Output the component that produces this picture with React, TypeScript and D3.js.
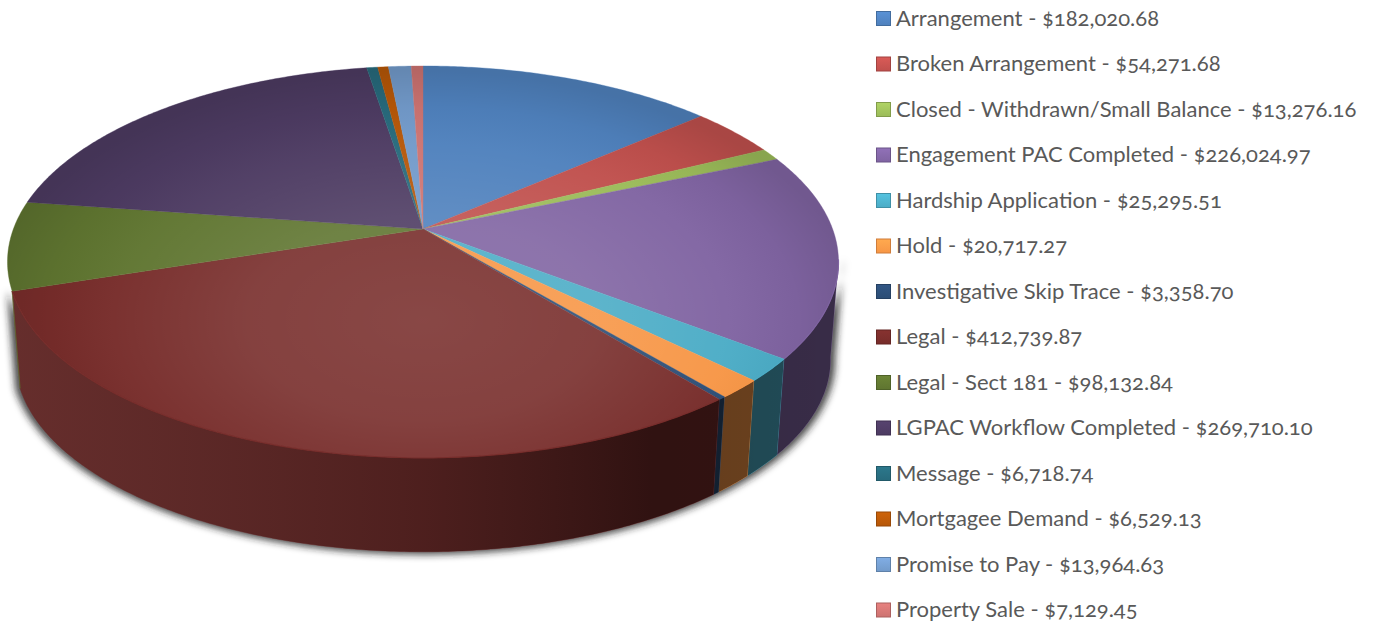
import React from "react";
import * as d3 from "d3";

const categories = [
  "Arrangement",
  "Broken Arrangement",
  "Closed - Withdrawn/Small Balance",
  "Engagement PAC Completed",
  "Hardship Application",
  "Hold",
  "Investigative Skip Trace",
  "Legal",
  "Legal - Sect 181",
  "LGPAC Workflow Completed",
  "Message",
  "Mortgagee Demand",
  "Promise to Pay",
  "Property Sale",
];
const amounts = [
  182020.68, 54271.68, 13276.16, 226024.97, 25295.51, 20717.27, 3358.7,
  412739.87, 98132.84, 269710.1, 6718.74, 6529.13, 13964.63, 7129.45,
];
const sliceColors = [
  "#4F81BD", "#C0504D", "#9BBB59", "#8064A2", "#4BACC6", "#F79646", "#2C4D75",
  "#772C2A", "#5F7530", "#4D3B62", "#276A7C", "#B65708", "#729ACA", "#CD7371",
];

const W = 1376;
const H = 623;
// Disc seen in perspective: apex of the wedges, half axes, and tilt.
const APEX_X = 423;
const APEX_Y = 229;
const AX = 409.6;
const BY = 190.4;
const TILT = 0.168;
// Extrusion converges on a vanishing point far below the disc.
const VANISH_Y = 5300;
const DEPTH_SCALE = 0.9806;
const SIDE_FROM = (99 * Math.PI) / 180;
const SIDE_TO = (252 * Math.PI) / 180;

type Pt = [number, number];
const topPoint = (a: number): Pt => {
  const w = 1 + TILT * Math.cos(a);
  return [APEX_X + (AX * Math.sin(a)) / w, APEX_Y - (BY * Math.cos(a)) / w];
};
const bottomPoint = (a: number): Pt => {
  const [x, y] = topPoint(a);
  return [APEX_X + (x - APEX_X) * DEPTH_SCALE, VANISH_Y + (y - VANISH_Y) * DEPTH_SCALE];
};
const arcAngles = (a0: number, a1: number): number[] => {
  const n = Math.max(2, Math.ceil((a1 - a0) / 0.01));
  return d3.range(n + 1).map((i) => a0 + ((a1 - a0) * i) / n);
};
const line = d3.line<Pt>();
const closed = (pts: Pt[]) => (line(pts) as string) + "Z";

const pie = d3.pie<number>().sort(null).value((d) => d);
const slices = pie(amounts);
const money = d3.format(",.2f");

const legendRow = d3.scaleLinear().domain([0, 13]).range([18.5, 610]);

export default function App() {
  const outline = arcAngles(0, Math.PI * 2).map(topPoint);
  const frontArc = arcAngles(SIDE_FROM, SIDE_TO);
  const wall = [...frontArc.map(topPoint), ...frontArc.slice().reverse().map(bottomPoint)];
  const sides = slices
    .map((s, i) => ({ i, a0: Math.max(s.startAngle, SIDE_FROM), a1: Math.min(s.endAngle, SIDE_TO) }))
    .filter((s) => s.a1 > s.a0);

  return (
    <svg
      width={W}
      height={H}
      viewBox={`0 0 ${W} ${H}`}
      style={{ position: "absolute", left: 0, top: 0, background: "#fff" }}
    >
      <defs>
        <filter id="dropBlur" x="-10%" y="-20%" width="120%" height="140%">
          <feGaussianBlur stdDeviation="3.6" />
        </filter>
        <radialGradient
          id="faceLight"
          gradientUnits="userSpaceOnUse"
          cx={0}
          cy={0}
          r={1}
          gradientTransform="translate(423 320) scale(440 250)"
        >
          <stop offset="0" stopColor="#fff" stopOpacity={0.13} />
          <stop offset="0.4" stopColor="#fff" stopOpacity={0.1} />
          <stop offset="0.7" stopColor="#fff" stopOpacity={0.03} />
          <stop offset="0.85" stopColor="#000" stopOpacity={0.03} />
          <stop offset="1" stopColor="#000" stopOpacity={0.12} />
        </radialGradient>
        <linearGradient id="sideShade" gradientUnits="userSpaceOnUse" x1={7} y1={0} x2={838} y2={0}>
          <stop offset="0" stopColor="#333" stopOpacity={0.25} />
          <stop offset="0.5" stopColor="#0a0a0a" stopOpacity={0.38} />
          <stop offset="0.78" stopColor="#000" stopOpacity={0.6} />
          <stop offset="1" stopColor="#000" stopOpacity={0.56} />
        </linearGradient>
        {sliceColors.map((c, i) => (
          <linearGradient key={c} id={`chip${i}`} x1={0} y1={0} x2={0} y2={1}>
            <stop offset="0" stopColor={d3.color(c)!.brighter(0.35).formatHex()} />
            <stop offset="1" stopColor={c} />
          </linearGradient>
        ))}
      </defs>

      {/* Soft shadow under the wall of the disc */}
      <path
        d={closed(wall)}
        fill="#222"
        fillOpacity={0.8}
        filter="url(#dropBlur)"
        transform={`translate(${APEX_X} 310) scale(1.012 1.012) translate(${-APEX_X} -310)`}
      />

      {/* Wall of the disc, front half only */}
      <g>
        {sides.map((s) => {
          const angles = arcAngles(s.a0, s.a1);
          const d = closed([...angles.map(topPoint), ...angles.slice().reverse().map(bottomPoint)]);
          return (
            <g key={s.i}>
              <path d={d} fill={sliceColors[s.i]} stroke={sliceColors[s.i]} strokeWidth={0.4} />
              <path d={d} fill="url(#sideShade)" />
            </g>
          );
        })}
      </g>

      {/* Top face */}
      <g>
        {slices.map((s, i) => (
          <path
            key={categories[i]}
            d={closed([[APEX_X, APEX_Y], ...arcAngles(s.startAngle, s.endAngle).map(topPoint)])}
            fill={sliceColors[i]}
            stroke={sliceColors[i]}
            strokeWidth={0.4}
          />
        ))}
        <path d={closed(outline)} fill="url(#faceLight)" />
        {sides.map((s) => (
          <path
            key={s.i}
            d={line(arcAngles(s.a0, s.a1).map(topPoint)) as string}
            fill="none"
            stroke={sliceColors[s.i]}
            strokeWidth={1.2}
            strokeOpacity={0.9}
          />
        ))}
      </g>

      {/* Legend */}
      <g fontFamily="Lato, 'Open Sans', sans-serif" fontSize={22} fill="#595959">
        {categories.map((name, i) => {
          const y = legendRow(i);
          return (
            <g key={name}>
              <rect
                x={876.5}
                y={y - 7}
                width={14}
                height={14}
                fill={`url(#chip${i})`}
                stroke={d3.color(sliceColors[i])!.darker(0.5).formatHex()}
                strokeWidth={1}
              />
              <text x={896} y={y + 7} style={{ fontFeatureSettings: '"onum"' }}>
                {`${name} - $${money(amounts[i])}`}
              </text>
            </g>
          );
        })}
      </g>
    </svg>
  );
}
